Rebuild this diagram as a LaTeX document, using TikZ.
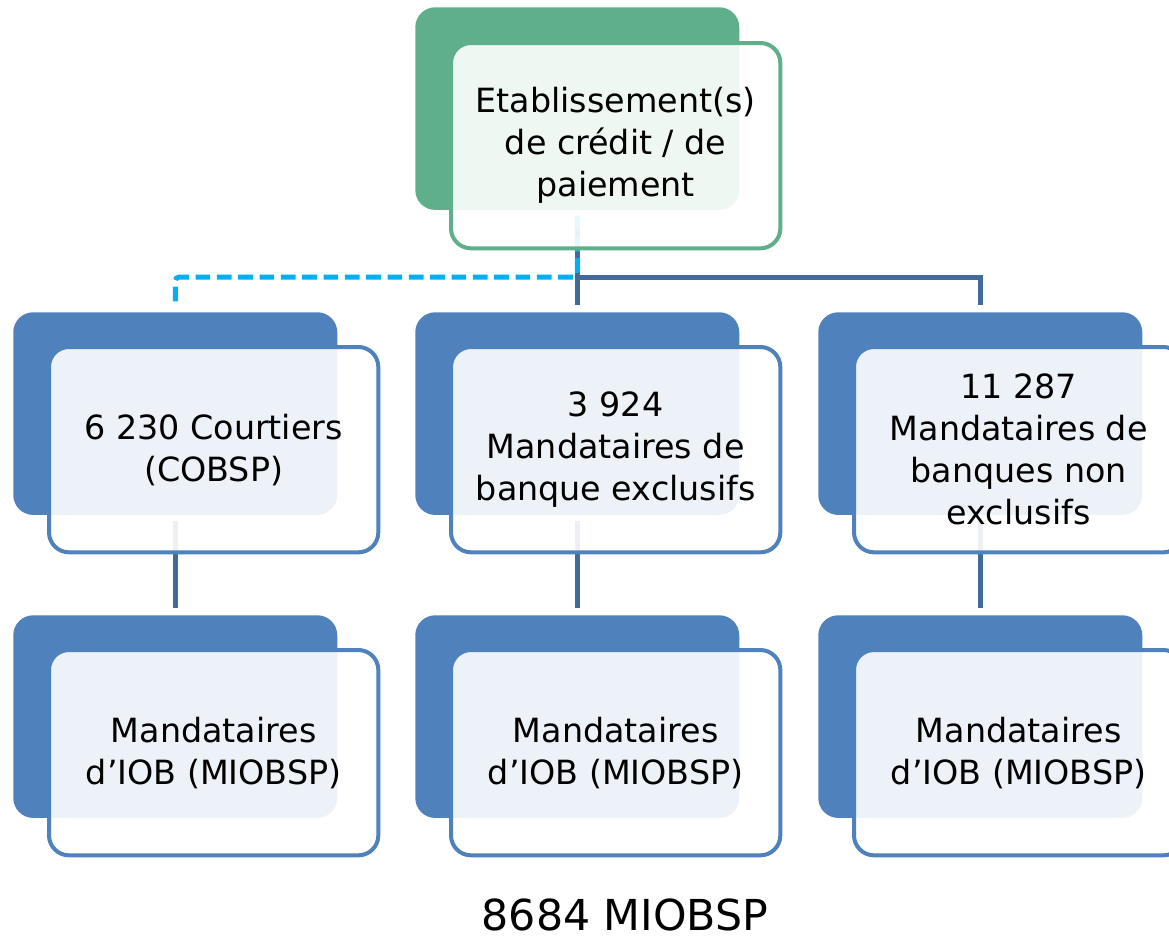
\documentclass[tikz,border=0pt]{standalone}
\usepackage{fontspec}
\setmainfont{DejaVu Sans}
\usetikzlibrary{positioning}
\pgfdeclarelayer{background}
\pgfsetlayers{background,main}
\definecolor{boxblue}{HTML}{4F81BD}
\definecolor{boxgreen}{HTML}{5FAF8A}
\definecolor{linkblue}{HTML}{41699A}
\definecolor{linkcyan}{HTML}{00B0F0}

\begin{document}
\begin{tikzpicture}[x=0.75pt,y=-0.75pt,
	backbox/.style={rectangle, rounded corners=15pt, fill=#1, inner sep=0pt,
		minimum width=243pt, minimum height=152pt, anchor=north west},
	frontbox/.style={rectangle, rounded corners=15pt, draw=#1, line width=3pt,
		fill=white, fill opacity=0.9, text opacity=1, inner sep=0pt,
		minimum width=247pt, minimum height=154pt, anchor=north west,
		align=center, font=\fontsize{25}{31.5}\selectfont},
	link/.style={draw=linkblue, line width=3.75pt, shorten <=4pt, shorten >=5pt},
	dashlink/.style={draw=linkcyan, line width=3.75pt, dash pattern=on 11pt off 5pt,
		rounded corners=3pt, shorten <=4pt, shorten >=5pt}]
		\useasboundingbox (0,0) rectangle (1169,939);

		%top box
		\node[backbox=boxgreen] (top) at (415,7) {};
		\node[frontbox=boxgreen] (topf) at ([shift={(34,34)}]top.north west)
			{Etablissement(s)\\de crédit / de\\paiement};

		%back boxes, two rows
		\foreach \n/\x in {1/13,2/415,3/818}{
			\node[backbox=boxblue] (mid\n) at (\x,312) {};
			\node[backbox=boxblue] (low\n) at (\x,615) {};
		}

		%intermediaries
		\node[frontbox=boxblue] (midf1) at ([shift={(34,33)}]mid1.north west)
			{6 230 Courtiers\\(COBSP)};
		\node[frontbox=boxblue] (midf2) at ([shift={(34,33)}]mid2.north west)
			{3 924\\Mandataires de\\banque exclusifs};
		\node[frontbox=boxblue] (midf3) at ([shift={(34,33)}]mid3.north west)
			{11 287\\Mandataires de\\banques non\\exclusifs};

		%mandataires
		\foreach \n in {1,2,3}
		\node[frontbox=boxblue] (lowf\n) at ([shift={(34,33)}]low\n.north west)
			{Mandataires\\d’IOB (MIOBSP)};

		%total
		\node[font=\fontsize{32}{38}\selectfont, anchor=base] (total) at (625,930) {8684 MIOBSP};

		%connectors
		\begin{pgfonlayer}{background}
			\coordinate (bus) at (577,277);
			\draw[link] (top.south) |- (bus -| mid3.north) -- (mid3.north);
			\draw[link] (top.south) -- (mid2.north);
			\draw[dashlink] (top.south) |- (bus -| mid1.north) -- (mid1.north);
			\foreach \n in {1,2,3}
			\draw[link] (mid\n.south) -- (low\n.north);
		\end{pgfonlayer}
\end{tikzpicture}
\end{document}
